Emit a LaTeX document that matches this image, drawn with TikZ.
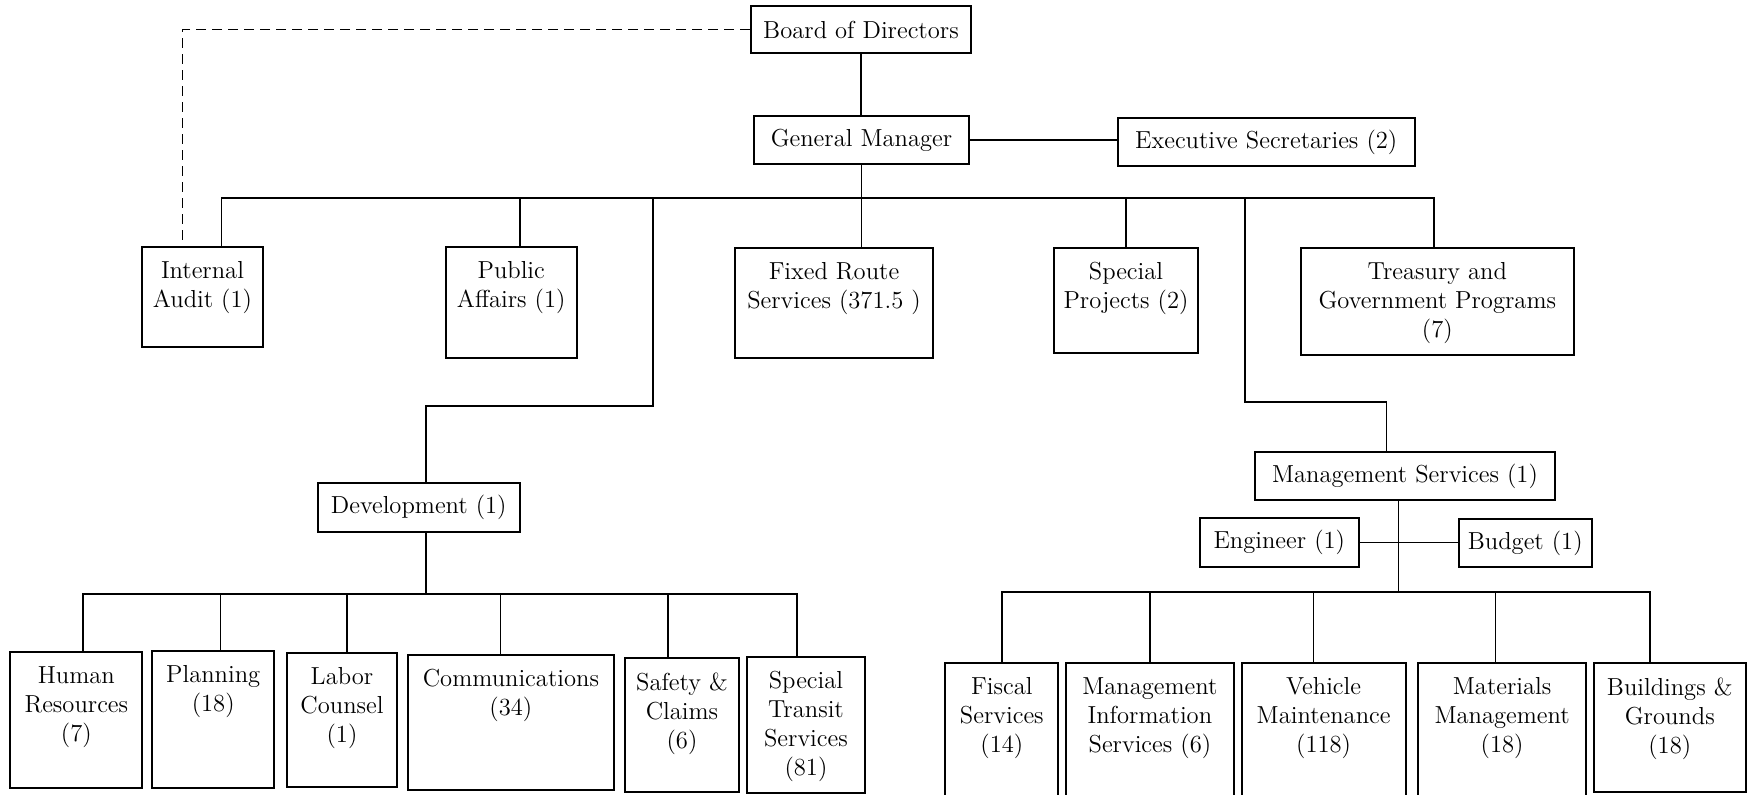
\documentclass[tikz,border=0pt]{standalone}
\usepackage{fontspec}
\usetikzlibrary{fit}
\tikzset{
  box/.style={draw, line width=1pt, inner sep=0pt},
  txt/.style={align=center, inner sep=0pt, font=\fontsize{12.3}{14.5}\selectfont},
  conn/.style={line width=0.8pt},
  dashconn/.style={line width=0.8pt, dash pattern=on 5pt off 3pt},
}
\newcommand\orgbox[6]{%
  \node[box, fit={(#2,#3) (#4,#5)}] (#1) {};
  \node[txt, anchor=north] (#1-t) at ([yshift=-7.5pt]#1.north) {#6};}
\newcommand\onebox[6]{%
  \node[box, fit={(#2,#3) (#4,#5)}] (#1) {};
  \node[txt] (#1-t) at (#1.center) {#6};}
\begin{document}
\begin{tikzpicture}[x=0.5pt,y=-0.5pt]
\useasboundingbox (0,0) rectangle (1747,794);
\clip (0,0) rectangle (1747,794);

% top
\onebox{bod}{751}{6}{971}{53}{Board of Directors}
\onebox{gm}{754}{116}{969}{164}{General Manager}
\onebox{es}{1117.5}{118}{1415}{166}{Executive Secretaries (2)}

% second row
\orgbox{ia}{142}{247}{263}{347}{Internal\\Audit (1)}
\orgbox{pa}{445.5}{247}{577}{358}{Public\\Affairs (1)}
\orgbox{fr}{735}{248}{933}{358}{Fixed Route\\Services (371.5 )}
\orgbox{sp}{1054}{248}{1198}{353}{Special\\Projects (2)}
\orgbox{tr}{1300.6}{248}{1574}{355}{Treasury and\\Government Programs\\(7)}

% middle
\onebox{dev}{317.5}{483}{520}{532}{Development (1)}
\onebox{ms}{1255}{452}{1555}{500}{Management Services (1)}
\onebox{eng}{1200}{518}{1358.6}{567}{Engineer (1)}
\onebox{bud}{1458.5}{519}{1592}{567}{Budget (1)}

% bottom left
\orgbox{hr}{10.3}{652}{142.4}{788}{Human\\Resources\\(7)}
\orgbox{pl}{152}{651}{274.4}{788}{Planning\\(18)}
\orgbox{lc}{287}{653}{397}{787}{Labor\\Counsel\\(1)}
\orgbox{co}{407.6}{655}{614.2}{790}{Communications\\(34)}
\orgbox{sc}{624.6}{658}{739.4}{792}{Safety \&\\Claims\\(6)}
\orgbox{sts}{747.4}{657}{864.5}{793}{Special\\Transit\\Services\\(81)}

% bottom right
\orgbox{fs}{945.3}{663}{1058.4}{805}{Fiscal\\Services\\(14)}
\orgbox{mis}{1065.8}{663}{1234}{805}{Management\\Information\\Services (6)}
\orgbox{vm}{1241.5}{663}{1405.7}{805}{Vehicle\\Maintenance\\(118)}
\orgbox{mm}{1418.3}{663}{1586}{805}{Materials\\Management\\(18)}
\orgbox{bg}{1594}{663}{1745.5}{791.7}{Buildings \&\\Grounds\\(18)}

% connectors top
\draw[conn] (bod.south) -- (bod.south |- gm.north);
\draw[conn] (gm.east) -- (gm.east -| es.west);
\draw[dashconn] (bod.west) -| ([xshift=-10pt]ia.north);
\path (gm.south) ++(0,33) coordinate (tb);
\draw[conn] (gm.south) -- (gm.south |- fr.north);
\draw[conn] ([xshift=9.5pt]ia.north) |- (tb) -| ([xshift=-1.6pt]tr.north);
\draw[conn] ([xshift=4.25pt]pa.north) |- (tb);
\draw[conn] (sp.north) |- (tb);
\coordinate (dj) at (653,197);
\coordinate (mj) at (1245,197);
\draw[conn] (dj) -- ++(0,209) -| ([xshift=3.6pt]dev.north);
\draw[conn] (mj) -- ++(0,205) -| ([xshift=-9.2pt]ms.north);

% development group
\path ([xshift=3.6pt]dev.south) ++(0,61) coordinate (db);
\draw[conn] ([xshift=3.6pt]dev.south) -- (db);
\draw[conn] ([xshift=3.2pt]hr.north) |- (db) -| ([xshift=-4.6pt]sts.north);
\draw[conn] ([xshift=3.7pt]pl.north) |- (db);
\draw[conn] ([xshift=2.35pt]lc.north) |- (db);
\draw[conn] ([xshift=-5.2pt]co.north) |- (db);
\draw[conn] ([xshift=-7pt]sc.north) |- (db);

% management services group
\path ([xshift=-3.2pt]ms.south) ++(0,90.7) coordinate (mb);
\draw[conn] ([xshift=-3.2pt]ms.south) -- (mb);
\draw[conn] (eng.east) -- (eng.east -| bud.west);
\draw[conn] (fs.north) |- (mb) -| ([xshift=-9.9pt]bg.north);
\draw[conn] (mis.north) |- (mb);
\draw[conn] ([xshift=-5.15pt]vm.north) |- (mb);
\draw[conn] ([xshift=-3.4pt]mm.north) |- (mb);
\end{tikzpicture}
\end{document}
